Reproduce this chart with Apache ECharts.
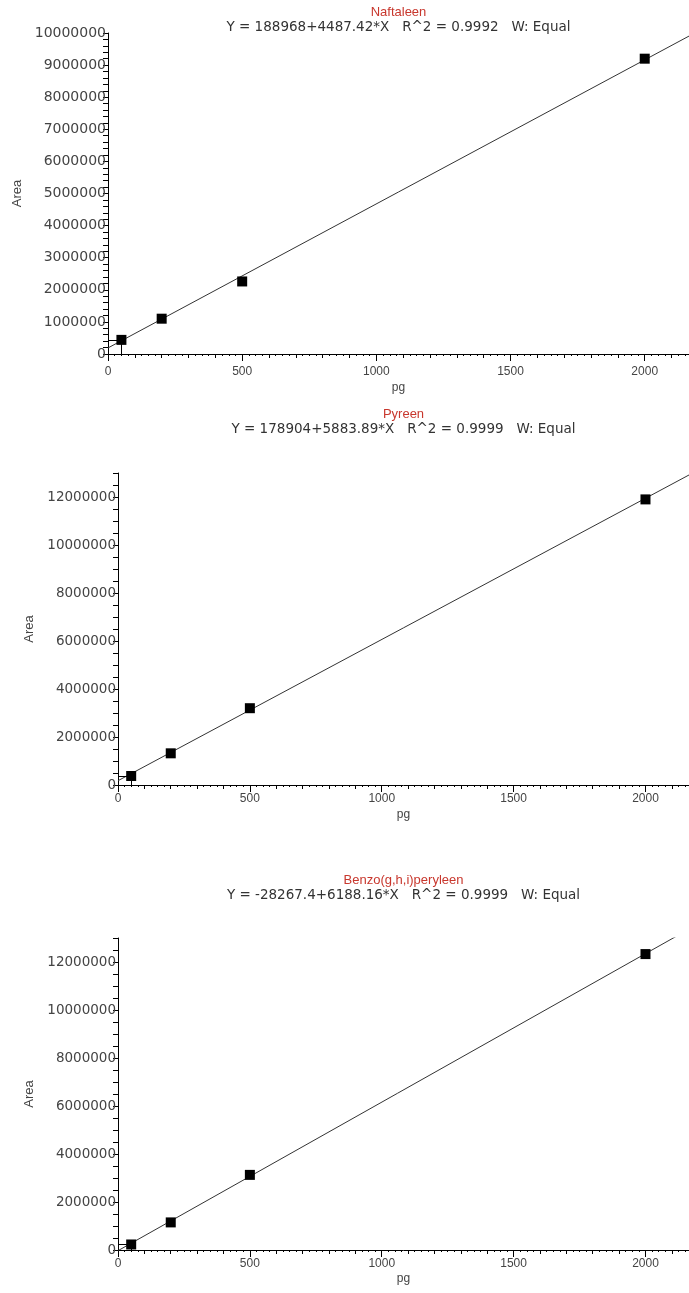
<!DOCTYPE html>
<html>
<head>
<meta charset="utf-8">
<script src="https://cdn.jsdelivr.net/npm/echarts@6/dist/echarts.min.js"></script>
<style>
html, body { margin: 0; padding: 0; background: #fff; }
#container { width: 689px; height: 1293px; }
</style>
</head>
<body>
<div id="container"></div>
<script>
// kalibratiepunten (pg)
var pgLevels = [50, 200, 500, 2000];

// gemeten oppervlaktes per component
var naftaleenArea = [440000, 1100000, 2260000, 9200000];
var pyreenArea = [375000, 1320000, 3200000, 11900000];
var benzoArea = [230000, 1150000, 3130000, 12330000];

// eindpunten van de regressielijnen
var naftaleenFitX = [0, 2165];
var naftaleenFitY = [188968, 9903932];
var pyreenFitX = [0, 2165];
var pyreenFitY = [178904, 12917526];
var benzoFitX = [0, 2165];
var benzoFitY = [-28267, 13369140];

var titles = ['Naftaleen', 'Pyreen', 'Benzo(g,h,i)peryleen'];
var equations = [
	'Y = 188968+4487.42*X   R^2 = 0.9992   W: Equal',
	'Y = 178904+5883.89*X   R^2 = 0.9999   W: Equal',
	'Y = -28267.4+6188.16*X   R^2 = 0.9999   W: Equal'
];

// y-as instellingen per grafiek
var yMax = [10000000, 13000000, 13000000];
var yTickStep = [200000, 500000, 500000];
var yLabelStep = [1000000, 2000000, 2000000];
var xMax = 2165;

var myChart = echarts.init(document.getElementById('container'));
var font = 'Liberation Sans, Arial, sans-serif';
var wideFont = 'DejaVu Sans, Verdana, sans-serif';

var grids = [
	{ left: 108, top: 33, width: 581, height: 321 },
	{ left: 118, top: 473, width: 571, height: 312 },
	{ left: 118, top: 938, width: 571, height: 312 }
];
var titleTop = [6, 408, 874];
var xLabelMargin = [12, 8, 8];
var xNameGap = [28, 24, 23];
var yNameGap = [84, 81, 81];
var yLabelSize = [14, 13.5, 13.5];

function pairs(xs, ys) {
	var out = [];
	for (var i = 0; i < xs.length; i++) {
		out.push([xs[i], ys[i]]);
	}
	return out;
}

var areas = [naftaleenArea, pyreenArea, benzoArea];
var fits = [
	pairs(naftaleenFitX, naftaleenFitY),
	pairs(pyreenFitX, pyreenFitY),
	pairs(benzoFitX, benzoFitY)
];

var option = {
	backgroundColor: '#fff',
	animation: false,
	title: [],
	grid: grids,
	xAxis: [],
	yAxis: [],
	series: []
};

for (var g = 0; g < 3; g++) {
	var grid = grids[g];
	option.title.push({
		text: titles[g],
		subtext: equations[g],
		left: grid.left + grid.width / 2,
		top: titleTop[g],
		textAlign: 'center',
		itemGap: 1,
		padding: 0,
		textStyle: { color: '#c8372d', fontSize: 13, fontWeight: 'normal', fontFamily: font },
		subtextStyle: { color: '#333', fontSize: 13.5, fontFamily: wideFont }
	});

	// hoofdas met labels, tussenstreepjes om de 100 en 25
	option.xAxis.push({
		type: 'value',
		gridIndex: g,
		min: 0,
		max: xMax,
		interval: 100,
		name: 'pg',
		nameLocation: 'middle',
		nameGap: xNameGap[g],
		nameTextStyle: { color: '#444', fontSize: 12, fontFamily: font },
		splitLine: { show: false },
		axisLine: { onZero: false, lineStyle: { color: '#000', width: 1 } },
		axisTick: { length: 4, lineStyle: { color: '#000' } },
		minorTick: { show: true, splitNumber: 4, length: 2, lineStyle: { color: '#000' } },
		axisLabel: {
			color: '#444', fontSize: 12, fontFamily: font, margin: xLabelMargin[g],
			showMaxLabel: false,
			formatter: function(v) { return v % 500 === 0 ? String(v) : ''; }
		}
	});
	// extra as alleen voor de lange streepjes om de 500
	option.xAxis.push({
		type: 'value',
		gridIndex: g,
		min: 0,
		max: xMax,
		interval: 500,
		position: 'bottom',
		splitLine: { show: false },
		axisLine: { show: false },
		axisTick: { length: 7, lineStyle: { color: '#000' } },
		axisLabel: { show: false }
	});

	option.yAxis.push({
		type: 'value',
		gridIndex: g,
		min: 0,
		max: yMax[g],
		interval: yTickStep[g],
		name: 'Area',
		nameLocation: 'middle',
		nameGap: yNameGap[g],
		nameTextStyle: { color: '#444', fontSize: 13, fontFamily: font },
		splitLine: { show: false },
		axisLine: { show: true, onZero: false, lineStyle: { color: '#000', width: 1 } },
		axisTick: { show: true, length: 5, lineStyle: { color: '#000' } },
		axisLabel: {
			color: '#444', fontSize: yLabelSize[g], fontFamily: wideFont, margin: 2,
			formatter: (function(step) {
				return function(v) { return v % step === 0 ? String(v) : ''; };
			})(yLabelStep[g])
		}
	});

	var first = [pgLevels[0], areas[g][0]];
	option.series.push({
		type: 'line',
		xAxisIndex: g * 2,
		yAxisIndex: g,
		data: fits[g],
		showSymbol: false,
		symbol: 'none',
		lineStyle: { color: '#333', width: 1 },
		clip: true,
		z: 2
	});
	option.series.push({
		type: 'scatter',
		xAxisIndex: g * 2,
		yAxisIndex: g,
		data: pairs(pgLevels, areas[g]),
		symbol: 'rect',
		symbolSize: 10,
		itemStyle: { color: '#000', opacity: 1 },
		z: 3,
		markLine: {
			silent: true,
			symbol: 'none',
			label: { show: false },
			lineStyle: { color: '#000', width: 1, type: 'solid' },
			data: [
				[{ coord: [0, first[1]] }, { coord: first }],
				[{ coord: [first[0], 0] }, { coord: first }]
			]
		}
	});
}

myChart.setOption(option);
</script>
</body>
</html>
